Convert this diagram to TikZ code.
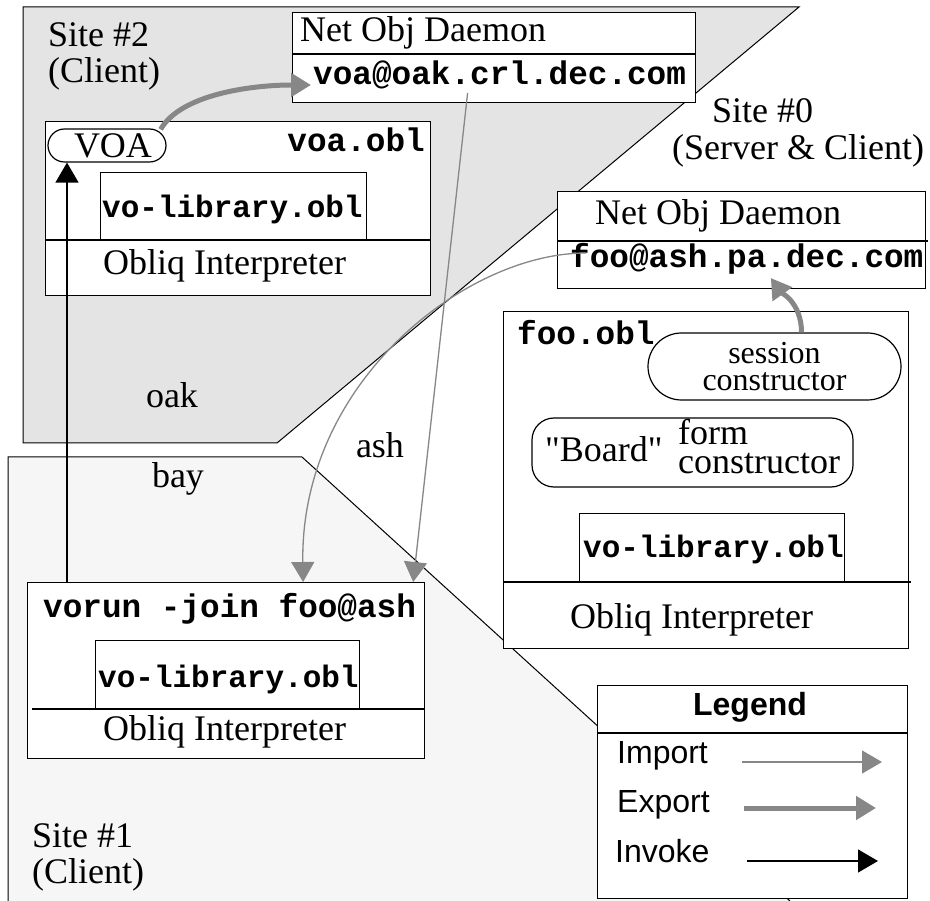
\documentclass[tikz,border=0pt]{standalone}
\usepackage{fontspec}
\setmainfont{Liberation Serif}
\setsansfont{Liberation Sans}
\setmonofont{Liberation Mono}
\usepackage{tikz}
\usetikzlibrary{arrows.meta,positioning,calc}
\usepackage{xcolor}
\definecolor{oakgray}{HTML}{E4E4E4}
\definecolor{baygray}{HTML}{F6F6F6}
\definecolor{linkgray}{HTML}{878787}

\begin{document}
\begin{tikzpicture}[
	x=1pt, y=-1pt,
	every node/.style={inner sep=0pt, font=\fontsize{36}{36}\selectfont},
	box/.style={draw, fill=white, line width=1.2pt, anchor=north west},
	pill/.style={draw, fill=white, line width=1.2pt},
	txt/.style={anchor=base west},
	codetxt/.style={anchor=base west, font=\fontsize{32.7}{36}\selectfont\ttfamily\bfseries},
	libtxt/.style={anchor=base west, font=\fontsize{31}{36}\selectfont\ttfamily\bfseries},
	keytxt/.style={anchor=base west, font=\fontsize{32}{36}\selectfont\sffamily},
	import/.style={linkgray, line width=1.3pt, -{Triangle[length=20pt,width=23pt]}},
	export/.style={linkgray, line width=5pt, -{Triangle[length=20pt,width=23pt]}},
	invoke/.style={black, line width=1.3pt, -{Triangle[length=20pt,width=23pt]}}
	]
	
	\useasboundingbox[fill=white] (0,0) rectangle (930,901);
	
	% the two host areas
	\fill[baygray] (8,901) -- (8,457) -- (302,457) -- (790,901) -- cycle;
	\draw[line width=1pt] (8,901) -- (8,457) -- (302,457) -- (790,901);
	\filldraw[fill=oakgray, line width=1pt] (23,7) -- (799,7) -- (277,443) -- (23,443) -- cycle;
	
	\node[txt] (site2a) at (48,47) {Site \#2};
	\node[txt] (site2b) at (48,83) {(Client)};
	\node[txt] (site0a) at (712,123) {Site \#0};
	\node[txt] (site0b) at (672,160) {(Server \& Client)};
	\node[txt] (site1a) at (32,847) {Site \#1};
	\node[txt] (site1b) at (32,883) {(Client)};
	\node[anchor=base] (oak) at (172,408) {oak};
	\node[anchor=base] (bay) at (178,488) {bay};
	\node[anchor=base] (ash) at (380,458) {ash};
	
	% oak
	\node[box, minimum width=403pt, minimum height=90pt] (oakdmn) at (292,12) {};
	\draw[line width=1.2pt] (292,54) -- (695,54);
	\node[txt] (oakdmnlbl) at (300,42) {Net Obj Daemon};
	\node[codetxt] (oakaddr) at (313,85) {voa@oak.crl.dec.com};
	
	\node[box, minimum width=385pt, minimum height=174pt] (voabox) at (45,121) {};
	\node[box, minimum width=266pt, minimum height=68pt] (libA) at (100,172) {};
	\draw[line width=1.2pt] (45,240) -- (430,240);
	\node[pill, rounded corners=16.5pt, minimum width=118pt, minimum height=33pt] (voa) at (107,145.5) {\hspace*{12pt}VOA};
	\node[codetxt, anchor=base east] (voaobl) at (425,152) {voa.obl};
	\node[libtxt] (libAlbl) at (102,218) {vo-library.obl};
	\node[txt] (obliqA) at (103,275) {Obliq Interpreter};
	
	% ash
	\node[box, minimum width=368pt, minimum height=97pt] (ashdmn) at (557,191) {};
	\draw[line width=1.2pt] (557,241) -- (928,241);
	\node[txt] (ashdmnlbl) at (595,225) {Net Obj Daemon};
	\node[codetxt] (fooaddr) at (570,268) {foo@ash.pa.dec.com};
	
	\node[box, minimum width=405pt, minimum height=337pt] (foobox) at (503,311) {};
	\node[codetxt] (fooobl) at (517,345) {foo.obl};
	\node[pill, rounded corners=33.5pt, minimum width=253pt, minimum height=67pt, align=center, font=\fontsize{32}{27}\selectfont] (sess) at (774.5,366.5) {session\\constructor};
	\node[pill, rounded corners=22pt, minimum width=321pt, minimum height=69pt] (board) at (692.5,452.5) {};
	\node[txt] (boardlbl) at (545,462) {\textquotedbl Board\textquotedbl};
	\node[anchor=west, align=left, font=\fontsize{36}{29}\selectfont] (formlbl) at (678,447) {form\\constructor};
	\node[box, minimum width=265pt, minimum height=69pt] (libB) at (579,513) {};
	\draw[line width=1.2pt] (503,582) -- (911,582);
	\node[libtxt] (libBlbl) at (583,557) {vo-library.obl};
	\node[txt] (obliqB) at (570,628) {Obliq Interpreter};
	
	% bay
	\node[box, minimum width=397pt, minimum height=176pt] (vorun) at (27,582) {};
	\node[box, minimum width=264pt, minimum height=69pt] (libC) at (95,640) {};
	\draw[line width=1.2pt] (32,709) -- (424,709);
	\node[codetxt] (vorunlbl) at (43,617) {vorun -join foo@ash};
	\node[libtxt] (libClbl) at (98,687) {vo-library.obl};
	\node[txt] (obliqC) at (103,740) {Obliq Interpreter};
	
	% legend
	\node[box, minimum width=310pt, minimum height=213pt] (legend) at (597,685) {};
	\draw[line width=1.2pt] (597,733) -- (907,733);
	\node[keytxt, anchor=base, font=\fontsize{32}{36}\selectfont\sffamily\bfseries] (legendlbl) at (750,715) {Legend};
	\node[keytxt] (impl) at (617,763) {Import};
	\node[keytxt] (expl) at (617,812) {Export};
	\node[keytxt] (invl) at (615,862) {Invoke};
	\coordinate (impA) at (742,762);
	\coordinate (impB) at (882,762);
	\coordinate (expA) at (744,808);
	\coordinate (expB) at (876,808);
	\coordinate (invA) at (747,861);
	\coordinate (invB) at (878,861);
	\draw[import] (impA) -- (impB);
	\draw[export] (expA) -- (expB);
	\draw[invoke] (invA) -- (invB);
	
	% links
	\draw[export] ($(voa.north east)+(-6,1)$) .. controls +(20,-35) and +(-60,0) .. ($(oakaddr.base west)+(-2,0)$);
	\draw[export] ($(sess.north)+(27,0)$) .. controls +(0,-30) and +(10,14) .. ($(fooaddr.base)+(24,10)$);
	\draw[import] ($(oakaddr.base)+(-32,8)$) -- ($(vorun.north east)+(-12,0)$);
	\draw[import] ($(fooaddr.base west)+(16,-15)$) .. controls +(-120,0) and +(-3,-200) .. ($(vorun.north)+(77,0)$);
	\coordinate (invk) at ($(vorun.north west)+(40,0)$);
	\draw[invoke] (invk) -- (invk |- voa.south);
	
\end{tikzpicture}
\end{document}
